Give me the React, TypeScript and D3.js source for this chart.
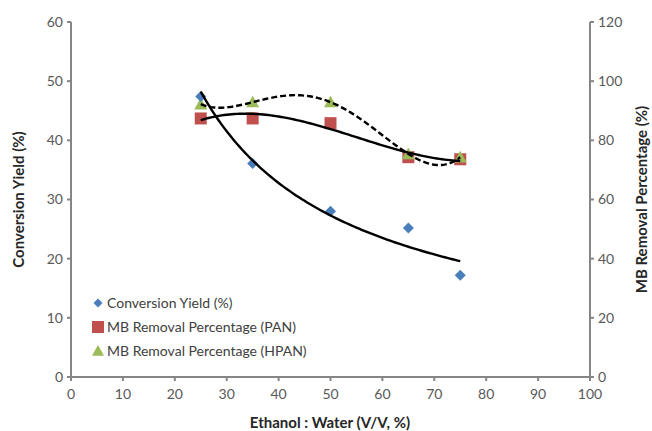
import React from "react";
import * as d3 from "d3";

const ratios = [25, 35, 50, 65, 75];
const conversionYield = [47.4, 36.1, 28.0, 25.2, 17.2];
const removalPAN = [87.4, 87.4, 85.8, 74.3, 73.6];
const removalHPAN = [92.2, 92.9, 92.9, 75.4, 74.3];

const xTicks = [0, 10, 20, 30, 40, 50, 60, 70, 80, 90, 100];
const leftTicks = [0, 10, 20, 30, 40, 50, 60];
const rightTicks = [0, 20, 40, 60, 80, 100, 120];

const legendLabels = [
  "Conversion Yield (%)",
  "MB Removal Percentage (PAN)",
  "MB Removal Percentage (HPAN)",
];

const W = 652;
const H = 431;
const M = { left: 71, right: 590, top: 22, bottom: 377 };

const FONT = "Lato, 'Open Sans', sans-serif";
const AXIS = "#868686";
const TEXT = "#595959";
const BLUE = "#4a7ebb";
const RED = "#c0504d";
const GREEN = "#9bbb59";

// Least-squares polynomial fit on centred x (normal equations, Gauss-Jordan)
function polyFit(xs: number[], ys: number[], order: number) {
  const x0 = d3.mean(xs)!;
  const u = xs.map((v) => (v - x0) / 10);
  const n = order + 1;
  const A: number[][] = [];
  for (let i = 0; i < n; i++) {
    const row: number[] = [];
    for (let j = 0; j < n; j++) row.push(d3.sum(u, (x) => Math.pow(x, i + j)));
    row.push(d3.sum(u, (x, k) => Math.pow(x, i) * ys[k]));
    A.push(row);
  }
  for (let c = 0; c < n; c++) {
    let p = c;
    for (let r = c + 1; r < n; r++) if (Math.abs(A[r][c]) > Math.abs(A[p][c])) p = r;
    [A[c], A[p]] = [A[p], A[c]];
    for (let r = 0; r < n; r++) {
      if (r === c) continue;
      const f = A[r][c] / A[c][c];
      for (let k = c; k <= n; k++) A[r][k] -= f * A[c][k];
    }
  }
  const coef = A.map((row, i) => row[n] / row[i]);
  return (v: number) => {
    const t = (v - x0) / 10;
    return coef.reduce((s, k, i) => s + k * Math.pow(t, i), 0);
  };
}

function powerFit(xs: number[], ys: number[]) {
  const lx = xs.map(Math.log);
  const ly = ys.map(Math.log);
  const mx = d3.mean(lx)!;
  const my = d3.mean(ly)!;
  const b =
    d3.sum(lx, (v, i) => (v - mx) * (ly[i] - my)) / d3.sum(lx, (v) => (v - mx) ** 2);
  const a = Math.exp(my - b * mx);
  return (x: number) => a * Math.pow(x, b);
}

export default function App() {
  const x = d3.scaleLinear().domain([0, 100]).range([M.left, M.right]);
  const yL = d3.scaleLinear().domain([0, 60]).range([M.bottom, M.top]);
  const yR = d3.scaleLinear().domain([0, 120]).range([M.bottom, M.top]);

  const xsFine = d3.range(25, 75.01, 0.5);
  const yieldFn = powerFit(ratios, conversionYield);
  const panFn = polyFit(ratios, removalPAN, 3);
  const hpanFn = polyFit(ratios, removalHPAN, 4);

  const lineL =
    d3
      .line<number>()
      .x((d) => x(d))
      .y((d) => yL(yieldFn(d)))(xsFine) || "";
  const lineR = (f: (v: number) => number) =>
    d3
      .line<number>()
      .x((d) => x(d))
      .y((d) => yR(f(d)))(xsFine) || "";

  const diamond = (cx: number, cy: number, r = 5.5) =>
    `M${cx},${cy - r}L${cx + r},${cy}L${cx},${cy + r}L${cx - r},${cy}Z`;
  const tri = (cx: number, cy: number, r = 6.5) =>
    `M${cx},${cy - r}L${cx + r},${cy + r * 0.8}L${cx - r},${cy + r * 0.8}Z`;

  return (
    <svg
      width={W}
      height={H}
      style={{ position: "absolute", left: 0, top: 0, background: "#fff" }}
      fontFamily={FONT}
    >
      {/* markers */}
      {ratios.map((r, i) => (
        <rect
          key={"p" + i}
          x={x(r) - 6}
          y={yR(removalPAN[i]) - 6}
          width={12}
          height={12}
          fill={RED}
        />
      ))}
      {ratios.map((r, i) => (
        <path key={"h" + i} d={tri(x(r), yR(removalHPAN[i]))} fill={GREEN} />
      ))}
      {ratios.map((r, i) => (
        <path key={"c" + i} d={diamond(x(r), yL(conversionYield[i]))} fill={BLUE} />
      ))}

      {/* trendlines */}
      <path d={lineL} fill="none" stroke="#000" strokeWidth={2.4} />
      <path d={lineR(panFn)} fill="none" stroke="#000" strokeWidth={2.4} />
      <path
        d={lineR(hpanFn)}
        fill="none"
        stroke="#000"
        strokeWidth={2.4}
        strokeDasharray="6,3"
      />

      {/* axes */}
      <g stroke={AXIS} strokeWidth={2} fill="none">
        <line x1={M.left} x2={M.left} y1={M.top} y2={M.bottom} />
        <line x1={M.right} x2={M.right} y1={M.top} y2={M.bottom} />
        <line x1={M.left} x2={M.right} y1={M.bottom} y2={M.bottom} />
        {leftTicks.map((t) => (
          <line key={"lt" + t} x1={M.left - 4} x2={M.left} y1={yL(t)} y2={yL(t)} />
        ))}
        {rightTicks.map((t) => (
          <line key={"rt" + t} x1={M.right} x2={M.right + 4} y1={yR(t)} y2={yR(t)} />
        ))}
        {xTicks.map((t) => (
          <line key={"xt" + t} x1={x(t)} x2={x(t)} y1={M.bottom} y2={M.bottom + 4} />
        ))}
      </g>

      <g fill={TEXT} fontSize={14}>
        {leftTicks.map((t) => (
          <text key={"ll" + t} x={M.left - 8} y={yL(t)} dy="0.35em" textAnchor="end">
            {t}
          </text>
        ))}
        {rightTicks.map((t) => (
          <text key={"rl" + t} x={M.right + 8} y={yR(t)} dy="0.35em" textAnchor="start">
            {t}
          </text>
        ))}
        {xTicks.map((t) => (
          <text key={"xl" + t} x={x(t)} y={M.bottom + 17} dy="0.35em" textAnchor="middle">
            {t}
          </text>
        ))}
      </g>

      {/* axis titles */}
      <g fill="#262626" fontSize={15} fontWeight="bold">
        <text
          transform={`translate(19,${(M.top + M.bottom) / 2}) rotate(-90)`}
          textAnchor="middle"
          dy="0.35em"
        >
          Conversion Yield (%)
        </text>
        <text
          transform={`translate(642,${(M.top + M.bottom) / 2}) rotate(-90)`}
          textAnchor="middle"
          dy="0.35em"
        >
          MB Removal Percentage (%)
        </text>
        <text x={330} y={423} textAnchor="middle" dy="0.35em">
          Ethanol : Water (V/V, %)
        </text>
      </g>

      {/* legend */}
      <g fontSize={14} fill="#404040">
        {legendLabels.map((lab, i) => {
          const cy = 303 + i * 24;
          const mx = 98;
          return (
            <g key={lab}>
              {i === 0 && <path d={diamond(mx, cy, 4.5)} fill={BLUE} />}
              {i === 1 && <rect x={mx - 6} y={cy - 6} width={12} height={12} fill={RED} />}
              {i === 2 && <path d={tri(mx, cy, 6)} fill={GREEN} />}
              <text x={107} y={cy} dy="0.35em">
                {lab}
              </text>
            </g>
          );
        })}
      </g>
    </svg>
  );
}
